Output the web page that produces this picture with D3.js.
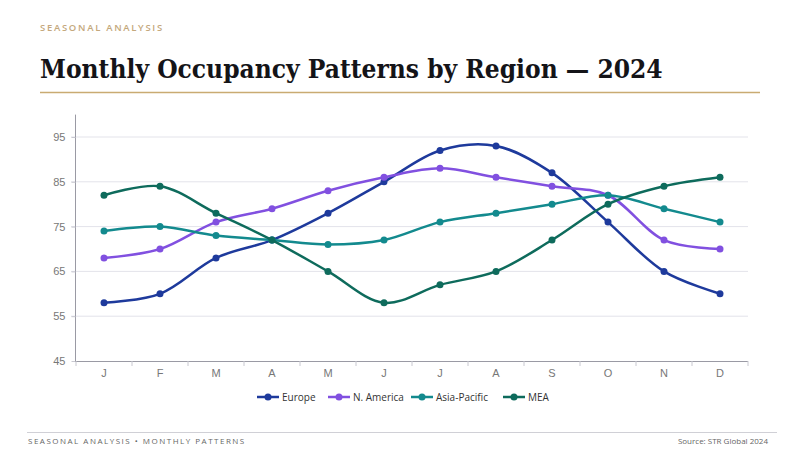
<!DOCTYPE html>
<html><head><meta charset="utf-8">
<script src="https://cdn.jsdelivr.net/npm/d3@7"></script>
<style>
html,body{margin:0;padding:0;background:#fff;}
svg{display:block;}
.title{font-family:"DejaVu Serif Condensed","DejaVu Serif",serif;font-stretch:condensed;font-weight:bold;}
</style></head>
<body>
<svg id="chart" width="800" height="450"></svg>
<script>
const months = ["J","F","M","A","M","J","J","A","S","O","N","D"];
const seriesNames = ["Europe","N. America","Asia-Pacific","MEA"];
const europe = [58,60,68,72,78,85,92,93,87,76,65,60];
const nAmerica = [68,70,76,79,83,86,88,86,84,82,72,70];
const asiaPacific = [74,75,73,72,71,72,76,78,80,82,79,76];
const mea = [82,84,78,72,65,58,62,65,72,80,84,86];
const yTicks = [45,55,65,75,85,95];
const colors = ["#1e3a9c","#8150e0","#138a8e","#0e6b5c"];

const series = [europe, nAmerica, asiaPacific, mea].map((v,i)=>({name:seriesNames[i], values:v, color:colors[i]}));

const svg = d3.select("#chart");
svg.append("rect").attr("width",800).attr("height",450).attr("fill","#fff");

// header
svg.append("text").attr("x",40).attr("y",31)
  .attr("font-family","Open Sans, sans-serif").attr("font-size",9.5).attr("font-weight",600)
  .attr("letter-spacing",1.7).attr("fill","#c4a87c").text("SEASONAL ANALYSIS");
const title = svg.append("text").attr("class","title").attr("x",40).attr("y",78)
  .attr("font-size",29).attr("fill","#141418")
  .text("Monthly Occupancy Patterns by Region — 2024");
// fit to reference width if condensed face unavailable
const tw = title.node().getComputedTextLength();
if (tw > 640) title.attr("font-size", 29 * 623 / tw);
svg.append("line").attr("x1",40).attr("x2",760).attr("y1",92.5).attr("y2",92.5)
  .attr("stroke","#c9ab72").attr("stroke-width",1.6);

// scales
const x = d3.scaleBand().domain(d3.range(12)).range([76,748]);
const y = d3.scaleLinear().domain([45,100]).range([361,114.6]);
const cx = i => x(i) + x.bandwidth()/2;

// grid
const g = svg.append("g");
g.selectAll(".grid").data(yTicks.slice(1)).join("line")
  .attr("x1",71).attr("x2",748).attr("y1",d=>y(d)).attr("y2",d=>y(d))
  .attr("stroke","#e3e3ea").attr("stroke-width",1);
// y axis
const yAxis = d3.axisLeft(y).tickValues(yTicks).tickSize(4).tickPadding(6);
const ya = svg.append("g").attr("transform","translate(75.5,0)").call(yAxis);
ya.select(".domain").attr("stroke","#9a9aa4").attr("d","M0,114.6V361");
ya.selectAll(".tick line").attr("stroke","#c8c8d0");
ya.selectAll("text").attr("font-family","Liberation Sans, Arial, sans-serif").attr("font-size",11).attr("fill","#777");
// x axis
const xAxis = d3.axisBottom(x).tickFormat(i=>months[i]).tickSize(0).tickPadding(8);
const xa = svg.append("g").attr("transform","translate(0,361.5)").call(xAxis);
xa.select(".domain").attr("stroke","#9a9aa4").attr("d","M75,0H748");
xa.selectAll("text").attr("font-family","Liberation Sans, Arial, sans-serif").attr("font-size",11).attr("fill","#777");
svg.append("g").selectAll("line").data(d3.range(13)).join("line")
  .attr("x1",i=>i<12?x(i):x(11)+x.bandwidth()).attr("x2",i=>i<12?x(i):x(11)+x.bandwidth())
  .attr("y1",361).attr("y2",366).attr("stroke","#c8c8d0");

// lines
const line = d3.line().x((d,i)=>cx(i)).y(d=>y(d)).curve(d3.curveCatmullRom.alpha(0.5));
const sg = svg.append("g").selectAll("g").data(series).join("g");
sg.append("path").attr("d",d=>line(d.values)).attr("fill","none")
  .attr("stroke",d=>d.color).attr("stroke-width",2.5);
sg.each(function(s){
  d3.select(this).selectAll("circle").data(s.values).join("circle")
    .attr("cx",(d,i)=>cx(i)).attr("cy",d=>y(d)).attr("r",3.5).attr("fill",s.color);
});

// legend
const legX = [257,328,411,503];
const lg = svg.append("g").selectAll("g").data(series).join("g")
  .attr("transform",(d,i)=>`translate(${legX[i]},397)`);
lg.append("line").attr("x1",0).attr("x2",22).attr("stroke",d=>d.color).attr("stroke-width",2.5);
lg.append("circle").attr("cx",11).attr("r",3.5).attr("fill",d=>d.color);
lg.append("text").attr("x",25).attr("y",3.5).attr("font-family","Open Sans, sans-serif")
  .attr("font-size",10).attr("fill","#333").text(d=>d.name);

// footer
svg.append("line").attr("x1",27).attr("x2",777).attr("y1",432.5).attr("y2",432.5)
  .attr("stroke","#d0d0d6").attr("stroke-width",1);
svg.append("text").attr("x",28).attr("y",444).attr("font-family","Open Sans, sans-serif")
  .attr("font-size",8).attr("letter-spacing",1.5).attr("fill","#666").text("SEASONAL ANALYSIS  •  MONTHLY PATTERNS");
svg.append("text").attr("x",768).attr("y",444).attr("text-anchor","end").attr("font-family","Open Sans, sans-serif")
  .attr("font-size",8).attr("fill","#666").text("Source: STR Global 2024");
</script>
</body></html>
